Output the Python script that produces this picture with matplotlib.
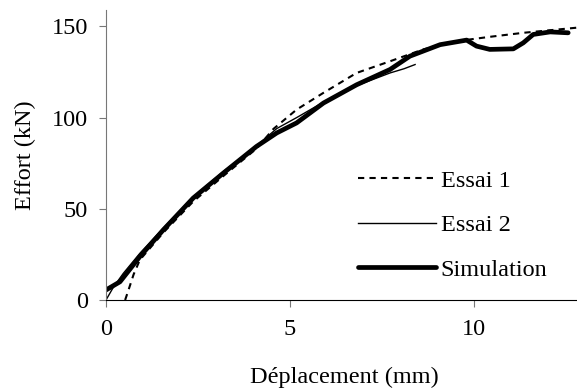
import matplotlib.pyplot as plt

plt.rcParams['font.family'] = ['Liberation Serif', 'DejaVu Serif']

# données (déplacement en mm, effort en kN)
x_essai1 = [0.52, 0.62, 0.75, 0.92, 1.56, 2.37, 3.19, 4.09, 4.55, 5.18, 5.91,
            6.81, 7.72, 8.62, 9.53, 10.43, 11.34, 12.79]
y_essai1 = [0.0, 6.0, 14.0, 22.0, 37.0, 54.0, 68.0, 83.0, 93.8, 104.4, 113.6,
            124.5, 130.9, 137.4, 141.9, 144.3, 146.5, 149.3]

x_essai2 = [0.0, 0.2, 0.47, 0.92, 1.56, 2.37, 3.19, 4.09, 4.64, 5.18, 5.91,
            6.81, 7.72, 8.1, 8.40]
y_essai2 = [0.0, 7.0, 14.6, 25.6, 39.5, 56.5, 70.5, 84.5, 94.0, 100.0, 108.5,
            117.5, 124.5, 126.8, 129.1]

x_simu = [0.0, 0.38, 0.92, 1.56, 2.37, 3.19, 4.09, 4.64, 5.18, 5.91, 6.81,
          7.72, 8.26, 9.08, 9.8, 10.07, 10.43, 11.07, 11.34, 11.61, 12.07, 12.56]
y_simu = [5.5, 10.0, 23.8, 38.5, 55.9, 69.6, 84.2, 91.6, 97.1, 108.0, 118.0,
          126.4, 133.7, 140.0, 142.5, 139.2, 137.4, 137.7, 141.0, 145.6, 147.0, 146.5]

fig = plt.figure(figsize=(5.77, 3.91), dpi=100)
ax = fig.add_axes([0.1837, 0.2327, 0.8163, 0.7417])

ax.plot(x_essai1, y_essai1, color='black', lw=1.5, ls=(0, (3, 2.5)), label='Essai 1')
ax.plot(x_essai2, y_essai2, color='black', lw=1.0, label='Essai 2')
ax.plot(x_simu, y_simu, color='black', lw=3.4, solid_capstyle='round', label='Simulation')

ax.set_xlim(0, 12.8)
ax.set_ylim(0, 159)
ax.set_xticks([0, 5, 10])
ax.set_yticks([0, 50, 100, 150])
ax.spines['top'].set_visible(False)
ax.spines['right'].set_visible(False)
ax.spines['left'].set_color('#777777')
ax.tick_params(labelsize=17.5, direction='out', length=5, width=0.8, color='#777777')
ax.tick_params(axis='x', pad=9)
ax.tick_params(axis='y', pad=8)

ax.set_xlabel('Déplacement (mm)', fontsize=17.5)
ax.set_ylabel('Effort (kN)', fontsize=17.5)
ax.xaxis.set_label_coords(0.507, -0.232)
ax.yaxis.set_label_coords(-0.148, 0.5)

ax.legend(loc='upper left', bbox_to_anchor=(0.535, 0.45), frameon=False,
          fontsize=17.5, handlelength=3.2, handletextpad=0.2, labelspacing=0.93,
          borderpad=0, borderaxespad=0)

fig.savefig('out.png', dpi=100)
